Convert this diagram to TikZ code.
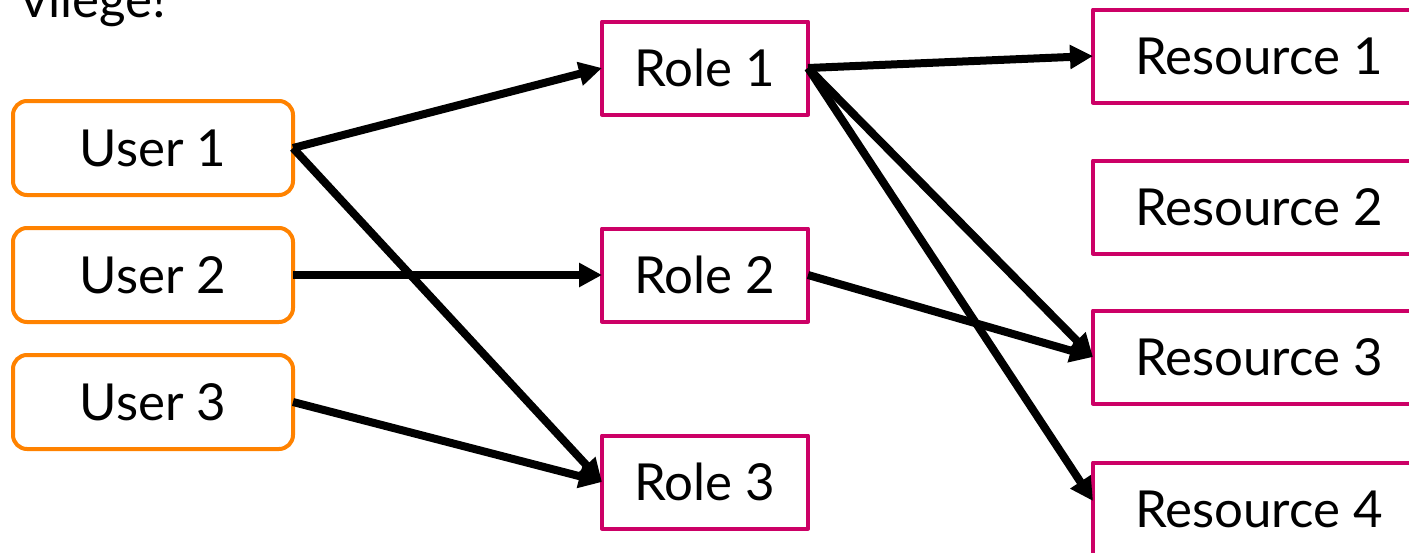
\documentclass[tikz,border=0pt]{standalone}
\usepackage{fontspec}
\setmainfont{Lato}
\usetikzlibrary{arrows.meta}

\definecolor{userorange}{HTML}{FF8200}
\definecolor{rolepink}{HTML}{CC0066}

\begin{document}
\begin{tikzpicture}[x=1pt,y=-1pt,line join=round,
  every node/.style={font=\fontsize{51}{60}\selectfont,inner sep=0pt,outer sep=0pt},
  userbox/.style={draw=userorange,line width=4pt,rounded corners=14pt,minimum width=280pt,minimum height=94pt},
  rolebox/.style={draw=rolepink,line width=4pt,minimum width=206pt,minimum height=93pt},
  resbox/.style={draw=rolepink,line width=4pt,minimum width=332pt,minimum height=93pt},
  link/.style={line width=8pt,-{Triangle[length=23pt,width=23pt]}}]
  \useasboundingbox (0,0) rectangle (1409,552);
  \clip (0,0) rectangle (1409,552);

  \node[anchor=base east] (title) at (166,17) {vilege!};

  % users on the left
  \foreach \i/\y in {1/148,2/275,3/402}
    \node[userbox] (user\i) at (153,\y) {User \i};
  % roles in the middle
  \foreach \i/\y in {1/68,2/275,3/482}
    \node[rolebox] (role\i) at (705,\y) {Role \i};
  % resources, cut off at the right edge
  \foreach \i/\y in {1/56,2/207,3/357,4/509}
    \node[resbox] (res\i) at (1259,\y) {Resource \i};

  \draw[link] (user1.east) -- (role1.west);
  \draw[link] (user1.east) -- (role3.west);
  \draw[link] (user2.east) -- (role2.west);
  \draw[link] (user3.east) -- (role3.west);
  \draw[link] (role1.east) -- (res1.west);
  \draw[link] (role1.east) -- (res3.west);
  \draw[link] (role1.east) -- ([yshift=8pt]res4.west);
  \draw[link] (role2.east) -- (res3.west);

\end{tikzpicture}
\end{document}
